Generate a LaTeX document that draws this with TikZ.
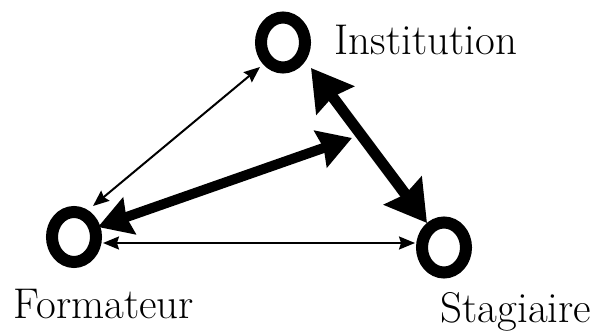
\documentclass[tikz,border=0pt]{standalone}
\usetikzlibrary{arrows.meta,shapes.geometric,calc}
\begin{document}
\begin{tikzpicture}[x=1pt,y=-1pt,
  ring/.style={draw,ellipse,line width=12pt,minimum width=44pt,minimum height=50pt,inner sep=0pt},
  lbl/.style={anchor=base,inner sep=0pt,font=\fontsize{43}{48}\selectfont},
  thinarr/.style={line width=2pt,{Stealth[length=16pt,width=13pt,inset=2pt]}-{Stealth[length=16pt,width=13pt,inset=2pt]}},
  bigarr/.style={line width=11pt,{Stealth[length=40pt,width=46pt,inset=4pt]}-{Stealth[length=40pt,width=46pt,inset=4pt]}},
  midarr/.style={line width=10pt,{Stealth[length=33pt,width=38pt,inset=3pt]}-{Stealth[length=33pt,width=38pt,inset=3pt]}}]
\useasboundingbox (0,0) rectangle (597,331);
\node[ring] (inst) at (283,42.5) {};
\node[ring] (form) at (74,237) {};
\node[ring] (stag) at (444,247.5) {};
\node[lbl] (tinst) at (426,55) {Institution};
\node[lbl] (tform) at (104,318) {Formateur};
\node[lbl] (tstag) at (516,322.5) {Stagiaire};
\coordinate (mid) at (352,138);
\draw[thinarr] ($(inst)+(-23,24.5)$) -- ($(form)+(19,-31)$);
\draw[bigarr] ($(inst)+(28,25.5)$) -- ($(stag)+(-17,-24.5)$);
\draw[midarr] ($(form)+(24,-10)$) -- (mid);
\draw[thinarr] ($(form)+(29,6)$) -- ($(stag)+(-29,-4.5)$);
\end{tikzpicture}
\end{document}
